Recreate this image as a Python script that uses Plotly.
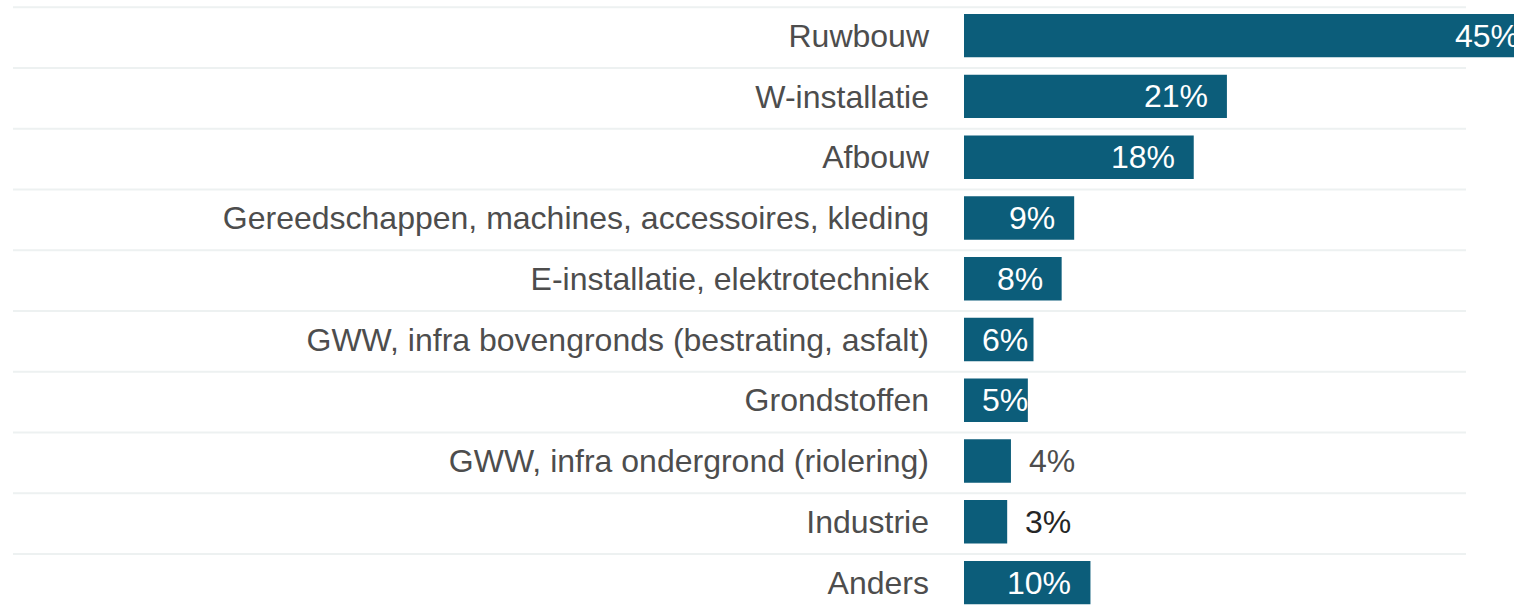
import plotly.graph_objects as go

categories = [
    "Ruwbouw",
    "W-installatie",
    "Afbouw",
    "Gereedschappen, machines, accessoires, kleding",
    "E-installatie, elektrotechniek",
    "GWW, infra bovengronds (bestrating, asfalt)",
    "Grondstoffen",
    "GWW, infra ondergrond (riolering)",
    "Industrie",
    "Anders",
]
values = [45.85, 21.0, 18.35, 8.8, 7.8, 5.55, 5.1, 3.75, 3.45, 10.1]
labels = ["45%", "21%", "18%", "9%", "8%", "6%", "5%", "4%", "3%", "10%"]

BAR_COLOR = "#0c5d7a"
GRID_COLOR = "#edf1f1"
TICK_COLOR = "#4d4d4d"
FONT = "Liberation Sans, Arial, sans-serif"
FS = 32

FIG_W, FIG_H = 1514, 605
M_LEFT = 964
PLOT_W = FIG_W - M_LEFT
PX_PER_UNIT = 12.52
X_MAX = PLOT_W / PX_PER_UNIT
ROW_PX = 60.76
Y_TOP = -35.7 / ROW_PX
Y_BOT = Y_TOP + FIG_H / ROW_PX
PAD = 17       # label padding from bar end (inside)
MIN_LEFT = 16  # minimum distance of inside labels from bar start
OUT_PAD = 16   # gap for labels outside the bar


def text_width(s, size):
    return sum(0.889 if ch == "%" else 0.556 for ch in s) * size


def x_ref(v):
    # annotations beyond the axis range are hidden by plotly, so use the
    # equivalent position along the x domain for those
    if v <= X_MAX:
        return dict(x=v, xref="x")
    return dict(x=v / X_MAX, xref="x domain")


fig = go.Figure()
fig.add_trace(go.Bar(
    x=values,
    y=categories,
    orientation="h",
    marker=dict(color=BAR_COLOR, line=dict(width=0)),
    hoverinfo="skip",
))

annotations = []
for cat, v, lab in zip(categories, values, labels):
    bar_px = v * PX_PER_UNIT
    tw = text_width(lab, FS)
    if bar_px >= MIN_LEFT + tw:
        if bar_px - PAD - tw >= MIN_LEFT:
            annotations.append(dict(
                **x_ref(v), y=cat, yref="y", text=lab, showarrow=False,
                xanchor="right", xshift=-PAD,
                font=dict(color="white", size=FS, family=FONT),
            ))
        else:
            annotations.append(dict(
                x=0, xref="x", y=cat, yref="y", text=lab, showarrow=False,
                xanchor="left", xshift=MIN_LEFT,
                font=dict(color="white", size=FS, family=FONT),
            ))
    else:
        annotations.append(dict(
            **x_ref(v), y=cat, yref="y", text=lab, showarrow=False,
            xanchor="left", xshift=OUT_PAD,
            font=dict(color=TICK_COLOR if lab == "4%" else "#262626", size=FS, family=FONT),
        ))

shapes = []
for i in range(len(categories)):
    yb = i - 0.5 + 0.03
    shapes.append(dict(
        type="line", xref="paper", yref="y",
        x0=(13 - M_LEFT) / PLOT_W, x1=(1466 - M_LEFT) / PLOT_W, y0=yb, y1=yb,
        line=dict(color=GRID_COLOR, width=2), layer="below",
    ))

fig.update_layout(
    width=FIG_W, height=FIG_H,
    margin=dict(l=M_LEFT, r=0, t=0, b=0, pad=0),
    paper_bgcolor="white", plot_bgcolor="white",
    bargap=0.287,
    showlegend=False,
    annotations=annotations,
    shapes=shapes,
    font=dict(family=FONT, size=FS, color=TICK_COLOR),
    xaxis=dict(range=[0, X_MAX], showgrid=False, zeroline=False,
               showticklabels=False, showline=False, fixedrange=True),
    yaxis=dict(categoryorder="array", categoryarray=categories,
               range=[Y_BOT, Y_TOP], showgrid=False, zeroline=False,
               showline=False, ticks="", ticklabelstandoff=34,
               tickfont=dict(family=FONT, size=FS, color=TICK_COLOR),
               fixedrange=True),
)

fig.write_html(
    "out.html",
    config={"displayModeBar": False},
    post_script=(
        "document.documentElement.style.margin='0';"
        "document.documentElement.style.overflow='hidden';"
        "document.body.style.margin='0';"
        "document.body.style.overflow='hidden';"
    ),
)
